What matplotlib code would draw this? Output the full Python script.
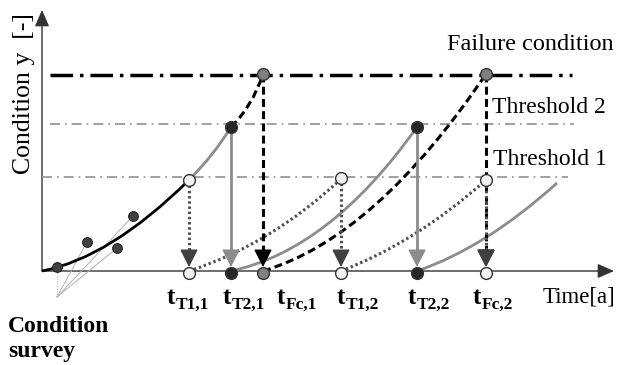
import matplotlib.pyplot as plt
from matplotlib.path import Path
from matplotlib.patches import PathPatch, FancyArrowPatch

plt.rcParams['font.family'] = ['Liberation Serif', 'DejaVu Serif']

# schematic units: time on x, condition on y
failure_level = 196
threshold2_level = 147
threshold1_level = 94

# event times (marked on the time axis)
event_times = [147, 189, 221, 299, 375, 444]
event_fill = ['#f2f2f2', '#262626', '#808080', '#f2f2f2', '#262626', '#f2f2f2']
# labels below the axis and where they start
event_subs = ['T1,1', 'T2,1', 'Fc,1', 'T1,2', 'T2,2', 'Fc,2']
label_x = [125, 181, 235, 295, 366, 431]

# condition survey observations
survey_t = [15, 45, 91, 75]
survey_y = [4, 29, 55, 23]

# degradation curves: start, control, end (quadratic Bezier)
curves = [
    ('fit', (0, 0), (68, 13), (147, 91)),
    ('T2', (147, 91), (172, 116), (189, 144)),
    ('Fc', (189, 144), (210, 164), (221, 197)),
    ('T1', (147, 0), (228, 26), (299, 92)),
    ('T2', (189, 0), (288, 21), (375, 144)),
    ('Fc', (221, 0), (333, 33), (444, 197)),
    ('T1', (299, 0), (373, 28), (444, 91)),
    ('T2', (375, 0), (443, 23), (515, 88)),
]

# points where curves reach a level
level_pts = [(147, 91, 'T1'), (189, 144, 'T2'), (221, 197, 'Fc'),
             (299, 93, 'T1'), (375, 144, 'T2'), (444, 197, 'Fc'), (444, 91, 'T1')]

styles = {
    'fit': dict(color='black', lw=2.0, ls='-'),
    'T1': dict(color='#505050', lw=2.2, ls=(0, (0.8, 0.9))),
    'T2': dict(color='#8c8c8c', lw=2.0, ls='-'),
    'Fc': dict(color='black', lw=2.2, ls=(0, (2.6, 1.4))),
}
head_col = {'T1': '#404040', 'T2': '#8c8c8c', 'Fc': 'black'}
marker_col = {'T1': '#f2f2f2', 'T2': '#262626', 'Fc': '#808080'}

fig = plt.figure(figsize=(6.17, 3.65), dpi=100)
ax = fig.add_axes([0, 0, 1, 1])
ax.set_xlim(-42, 575)
ax.set_ylim(-94, 271)
ax.axis('off')

# axes
ax.add_patch(FancyArrowPatch((0, 0), (0, 261), arrowstyle='-|>,head_length=0.5,head_width=0.22',
                             mutation_scale=20, color='#333333', lw=1, shrinkA=0, shrinkB=0))
ax.add_patch(FancyArrowPatch((0, 0), (572, 0), arrowstyle='-|>,head_length=0.5,head_width=0.22',
                             mutation_scale=20, color='#333333', lw=1, shrinkA=0, shrinkB=0))

# levels
ax.plot([8, 530], [failure_level] * 2, color='black', lw=2.5, ls=(0, (6.5, 2, 1, 2)))
ax.plot([8, 532], [threshold2_level] * 2, color='#909090', lw=1.2, ls=(0, (6, 3, 1, 3)))
ax.plot([0, 526], [threshold1_level] * 2, color='#909090', lw=1.2, ls=(0, (6, 3, 1, 3)))

# survey lines
for i, (st, sy) in enumerate(zip(survey_t, survey_y)):
    ax.plot([15, st], [-26, sy], color='#b0b0b0', lw=0.7, ls=':' if i == 0 else '-', zorder=1)

for kind, p0, p1, p2 in curves:
    s = styles[kind]
    path = Path([p0, p1, p2], [Path.MOVETO, Path.CURVE3, Path.CURVE3])
    ax.add_patch(PathPatch(path, fill=False, edgecolor=s['color'], lw=s['lw'], ls=s['ls'], zorder=2))

# vertical arrows from levels down to time axis
for (pt, py, kind) in level_pts:
    s = styles[kind]
    tip = 4
    ax.plot([pt, pt], [py, tip + 8], color=s['color'], lw=s['lw'], ls=s['ls'], zorder=2)
    ax.add_patch(FancyArrowPatch((pt, tip + 12), (pt, tip), arrowstyle='-|>,head_length=0.55,head_width=0.28',
                                 mutation_scale=20, color=head_col[kind], lw=1, shrinkA=0, shrinkB=0, zorder=3))

ax.plot(survey_t, survey_y, 'o', ms=7, mfc='#404040', mec='#222222', mew=0.8, zorder=4)
for (pt, py, kind) in level_pts:
    ax.plot(pt, py, 'o', ms=8.5, mfc=marker_col[kind], mec='#333333', mew=1, zorder=4)
for t, fc in zip(event_times, event_fill):
    ax.plot(t, -1.5, 'o', ms=8.5, mfc=fc, mec='#333333', mew=1, zorder=4)
for lx, sub in zip(label_x, event_subs):
    ax.text(lx, -33, 't', fontsize=18, fontweight='bold', ha='left', va='baseline')
    ax.text(lx + 9, -38, sub, fontsize=12.5, fontweight='bold', ha='left', va='baseline')

ax.text(501, -31, 'Time[a]', fontsize=16.5, va='baseline')
ax.text(-18, 177, 'Condition y  [-]', fontsize=18.5, rotation=90, ha='center', va='center')
ax.text(405, 221, 'Failure condition', fontsize=17.5, va='baseline')
ax.text(450, 158, 'Threshold 2', fontsize=17, va='baseline')
ax.text(451, 106, 'Threshold 1', fontsize=17, va='baseline')
ax.text(-34, -61, 'Condition', fontsize=17, fontweight='bold', va='baseline')
ax.text(-34, -86, 'survey', fontsize=17, fontweight='bold', va='baseline')

fig.savefig('out.png', dpi=100)
